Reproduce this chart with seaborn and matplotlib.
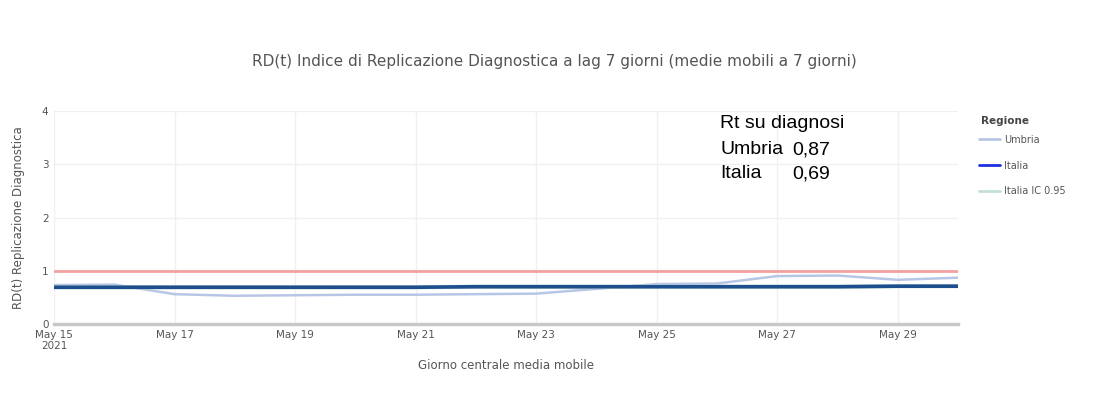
import numpy as np
import pandas as pd
import matplotlib
matplotlib.use("Agg")
import matplotlib.pyplot as plt
import matplotlib.dates as mdates
from matplotlib.lines import Line2D
import seaborn as sns

dates = pd.date_range("2021-05-15", "2021-05-30", freq="D")
umbria = [0.73, 0.74, 0.56, 0.53, 0.54, 0.55, 0.55, 0.56, 0.57, 0.66, 0.75, 0.76, 0.90, 0.91, 0.83, 0.87]
italia = [0.69, 0.69, 0.69, 0.69, 0.69, 0.69, 0.69, 0.70, 0.70, 0.70, 0.70, 0.70, 0.70, 0.70, 0.71, 0.71]
italia_lo = [0.67, 0.67, 0.67, 0.67, 0.67, 0.67, 0.67, 0.68, 0.68, 0.68, 0.68, 0.68, 0.68, 0.68, 0.69, 0.69]
italia_hi = [0.71, 0.71, 0.71, 0.71, 0.71, 0.71, 0.71, 0.72, 0.72, 0.72, 0.72, 0.72, 0.72, 0.72, 0.73, 0.73]
soglia = 1.0

title = "RD(t) Indice di Replicazione Diagnostica a lag 7 giorni (medie mobili a 7 giorni)"
ylabel = "RD(t) Replicazione Diagnostica"
xlabel = "Giorno centrale media mobile"
legend_title = "Regione"
legend_labels = ["Umbria", "Italia", "Italia IC 0.95"]

sns.set_style("white")
plt.rcParams['font.family'] = ['DejaVu Sans']

df = pd.DataFrame({"date": dates, "Umbria": umbria, "Italia": italia,
                   "lo": italia_lo, "hi": italia_hi})

fig = plt.figure(figsize=(11.16, 3.99), dpi=100)
ax = fig.add_axes([54/1116, 1-324/399, (958-54)/1116, (324-111)/399])

c_umbria = "#b8c6e6"
c_italia_line = "#1d4f8f"
c_italia_leg = "#1f2fe0"
c_ic = "#c4e0d4"
grey = "#555555"

ax.axhline(soglia, color="#f4a0a0", lw=2, zorder=2)
sns.lineplot(data=df, x="date", y="Umbria", ax=ax, color=c_umbria, lw=1.8, zorder=3)
sns.lineplot(data=df, x="date", y="lo", ax=ax, color=c_ic, lw=1.5, zorder=3)
sns.lineplot(data=df, x="date", y="hi", ax=ax, color=c_ic, lw=1.5, zorder=3)
sns.lineplot(data=df, x="date", y="Italia", ax=ax, color=c_italia_line, lw=2.6, zorder=4)

ax.set_xlim(dates[0], dates[-1])
ax.set_ylim(0, 4)
ax.set_yticks([0, 1, 2, 3, 4])
ticks = pd.date_range("2021-05-15", "2021-05-29", freq="2D")
ax.set_xticks(ticks)
ax.set_xticklabels(["May 15\n2021"] + [d.strftime("%b %d") for d in ticks[1:]])
ax.grid(True, color="#f0f0f0", lw=1)
ax.set_axisbelow(True)
for s in ["top", "right", "left"]:
    ax.spines[s].set_visible(False)
ax.spines["bottom"].set_color("#c8c8c8")
ax.spines["bottom"].set_linewidth(2.5)
ax.tick_params(axis="both", length=0, labelsize=7.5, colors=grey, pad=4)
ax.set_xlabel(xlabel, fontsize=8.5, color=grey, labelpad=6)
ax.set_ylabel(ylabel, fontsize=8.5, color=grey, labelpad=12)

fig.text(0.497, 0.845, title, ha="center", va="center", fontsize=11, color=grey)

tx = 720/1116
fs = 14
fig.text(tx, 1-124/399, "Rt su diagnosi", fontsize=fs, color="black", va="center",
         family=["Liberation Sans"])
fig.text(tx, 1-150/399, "Umbria", fontsize=fs, color="black", va="center", family=["Liberation Sans"])
fig.text(792/1116, 1-150/399, "0,87", fontsize=fs, color="black", va="center", family=["Liberation Sans"])
fig.text(tx, 1-174/399, "Italia", fontsize=fs, color="black", va="center", family=["Liberation Sans"])
fig.text(792/1116, 1-174/399, "0,69", fontsize=fs, color="black", va="center", family=["Liberation Sans"])

fig.text(981/1116, 1-121/399, legend_title, fontsize=7.5, fontweight="bold",
         color="#444444", va="center", ha="left")
handles = [Line2D([], [], color=c_umbria, lw=2),
           Line2D([], [], color=c_italia_leg, lw=2),
           Line2D([], [], color=c_ic, lw=2)]
leg = fig.legend(handles, legend_labels, loc="upper left",
                 bbox_to_anchor=(975/1116, 1-131/399), frameon=False,
                 fontsize=7, labelspacing=1.62,
                 handlelength=2.2, handletextpad=0.4, borderaxespad=0)
for t in leg.get_texts():
    t.set_color(grey)

fig.savefig("out.png", dpi=100, facecolor="white")
